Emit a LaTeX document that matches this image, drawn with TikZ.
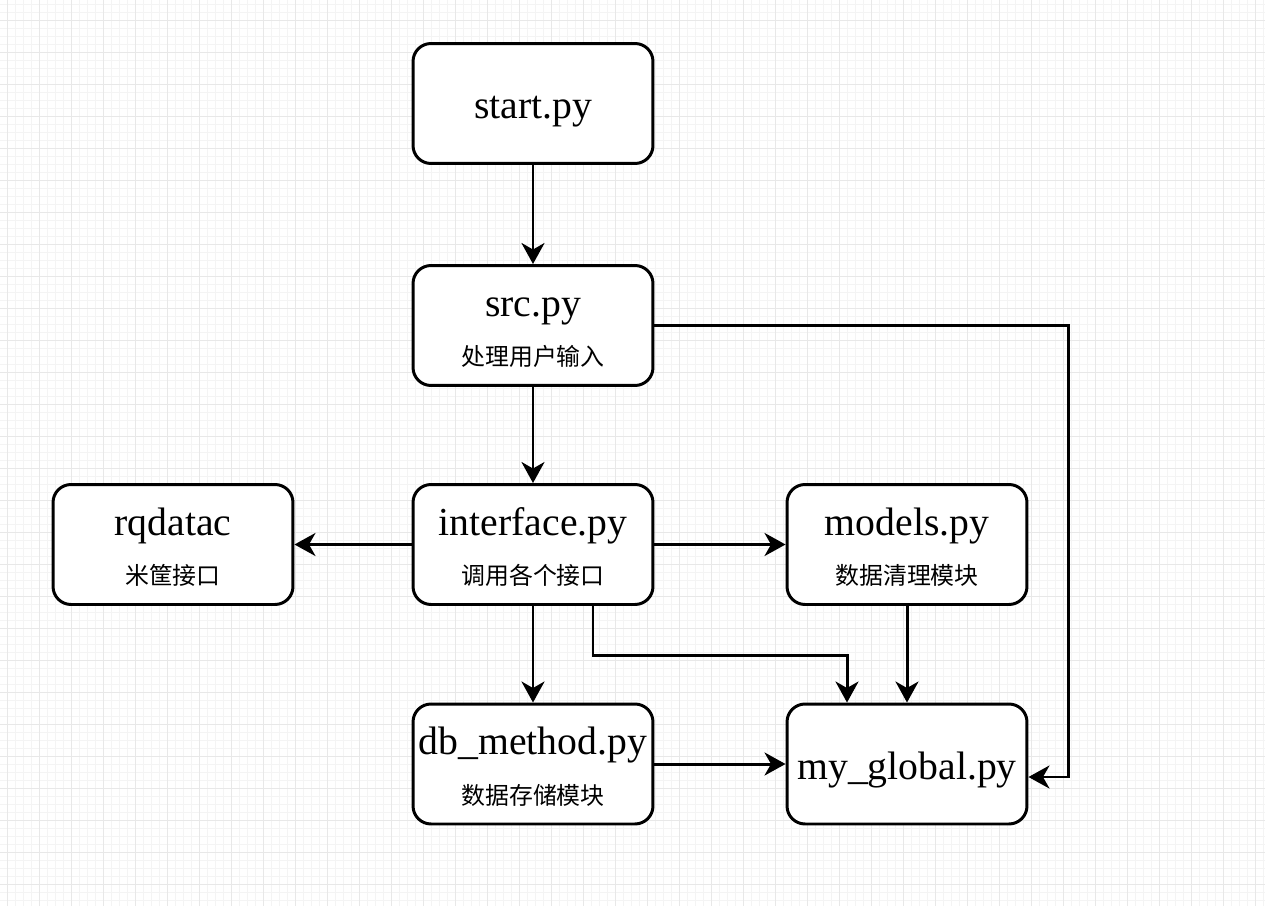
\documentclass[tikz,border=0pt]{standalone}
\usepackage{fontspec}
\setmainfont{Liberation Serif}
\newfontfamily\cjk{Noto Sans CJK SC}
\usetikzlibrary{arrows.meta}
\definecolor{gridmajor}{RGB}{232,232,232}
\definecolor{gridminor}{RGB}{244,244,244}
\newcommand{\sublabel}[1]{{\cjk\fontsize{13.6}{16}\selectfont #1}}
\newcommand{\topstrut}{\rule{0pt}{18.8pt}}
\newcommand{\onestrut}{\rule{0pt}{22.5pt}}

\begin{document}
\begin{tikzpicture}[x=0.02cm, y=-0.02cm,
	box/.style={draw, line width=1.7pt, rounded corners=0.36cm, fill=white,
		minimum width=4.8cm, minimum height=2.4cm, align=center, inner sep=0pt,
		font=\fontsize{22.6}{28}\selectfont},
	arr/.style={-{Stealth[length=0.42cm, width=0.46cm, inset=0.13cm]}, line width=1.7pt},
	minorgrid/.style={gridminor, line width=0.4pt},
	majorgrid/.style={gridmajor, line width=0.6pt}]
	\useasboundingbox (0,0) rectangle (1265,906);
	% grid paper
	\begin{scope}
		\clip (0,0) rectangle (1265,906);
		\fill[white] (0,0) rectangle (1265,906);
		\begin{scope}[shift={(7.3,20.7)}]
			\draw[minorgrid, step=0.16cm] (-1cm,-19cm) grid (26cm,1cm);
			\draw[majorgrid, step=0.64cm] (-1cm,-19cm) grid (26cm,1cm);
		\end{scope}
	\end{scope}
	% boxes
	\node[box] (start) at (533,103.5) {\onestrut start.py};
	\node[box] (src) at (533,325.5) {\topstrut src.py\\\sublabel{处理用户输入}};
	\node[box] (iface) at (533,544.5) {\topstrut interface.py\\\sublabel{调用各个接口}};
	\node[box] (rq) at (173,544.5) {\topstrut rqdatac\\\sublabel{米筐接口}};
	\node[box] (models) at (907,544.5) {\topstrut models.py\\\sublabel{数据清理模块}};
	\node[box] (db) at (533,764) {\topstrut db\_method.py\\\sublabel{数据存储模块}};
	\node[box] (glob) at (907,764) {\onestrut my\_global.py};
	% arrows
	\draw[arr] (start) -- (src);
	\draw[arr] (src) -- (iface);
	\draw[arr] (iface) -- (rq);
	\draw[arr] (iface) -- (models);
	\draw[arr] (iface) -- (db);
	\draw[arr] (db) -- (glob);
	\draw[arr] (models) -- (glob);
	\draw[arr] (src.east) -- ++(414,0) |- ([yshift=-0.26cm]glob.east);
	\draw[arr] ([xshift=1.2cm]iface.south) -- ++(0,50) -| ([xshift=-1.2cm]glob.north);
\end{tikzpicture}
\end{document}
